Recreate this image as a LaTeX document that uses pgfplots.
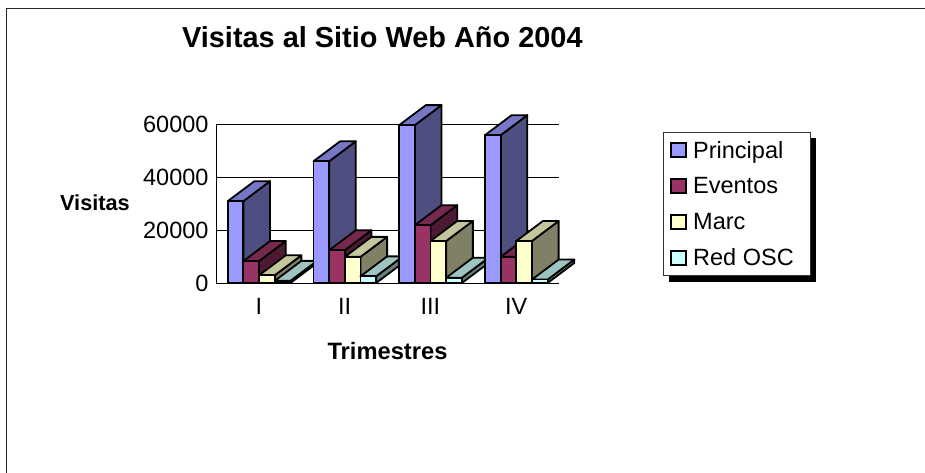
\documentclass[border=0pt]{standalone}
\usepackage{fontspec}
\setmainfont{Liberation Sans}
\usepackage{pgfplots}
\pgfplotsset{compat=1.18}

\definecolor{prinF}{HTML}{9999FF}\definecolor{prinT}{HTML}{7777C8}\definecolor{prinS}{HTML}{4E4E80}
\definecolor{evenF}{HTML}{993366}\definecolor{evenT}{HTML}{77284F}\definecolor{evenS}{HTML}{4D1A33}
\definecolor{marcF}{HTML}{FFFFCC}\definecolor{marcT}{HTML}{C6C69E}\definecolor{marcS}{HTML}{808066}
\definecolor{redoF}{HTML}{CCFFFF}\definecolor{redoT}{HTML}{9EC4C2}\definecolor{redoS}{HTML}{668080}

% bar at left edge #1 (in categories), value #2, colour prefix #3
\newcommand{\bardepth}[3]{%
  \pgfmathsetmacro{\xa}{#1}%
  \pgfmathsetmacro{\xb}{#1+0.1827}%
  \pgfmathsetmacro{\xc}{#1+0.1827+0.311}%
  \pgfmathsetmacro{\xd}{#1+0.311}%
  \edef\yt{\the\numexpr#2+7576\relax}%
  \addplot[forget plot,sharp plot,no marks,bar line,fill=#3S] coordinates {(\xb,0) (\xc,7576) (\xc,\yt) (\xb,#2)} -- cycle;
  \addplot[forget plot,sharp plot,no marks,bar line,fill=#3T] coordinates {(\xa,#2) (\xb,#2) (\xc,\yt) (\xd,\yt)} -- cycle;
  \addplot[forget plot,sharp plot,no marks,bar line,fill=#3F] coordinates {(\xa,0) (\xb,0) (\xb,#2) (\xa,#2)} -- cycle;
}
\tikzset{bar line/.style={draw=black,line width=1.8pt,line join=round}}

\begin{document}
\begin{tikzpicture}
\path[use as bounding box] (0,0) rectangle (925pt,473pt);
\draw[line width=1.9pt,black!85] (6.5pt,0) -- (6.5pt,464.5pt) -- (925pt,464.5pt);
\fill[black] (669pt,191pt) rectangle (816pt,335pt); % legend shadow
\begin{axis}[
    at={(216pt,190pt)}, anchor=south west,
    scale only axis, width=343pt, height=158.4pt,
    clip=false,
    xmin=0, xmax=4, ymin=0, ymax=60000,
    axis lines*=left,
    axis line style={-,line width=0.9pt},
    ytick={0,20000,40000,60000},
    xtick={0.5,1.5,2.5,3.5},
    xticklabels={I,II,III,IV},
    x tick style={draw=none},
    y tick style={black,line width=0.9pt},
    major tick length=4.5pt,
    scaled y ticks=false,
    /pgf/number format/1000 sep={},
    /pgf/number format/assume math mode=true,
    ymajorgrids,
    grid style={black,line width=0.9pt},
    tick label style={font=\fontsize{23.5}{28}\selectfont},
    xticklabel style={yshift=-12pt},
    yticklabel style={xshift=-4pt},
    title={Visitas al Sitio Web Año 2004},
    title style={font=\fontsize{28.9}{34}\selectfont\bfseries,at={(rel axis cs:0.485,1.515)},anchor=center},
    xlabel={Trimestres},
    xlabel style={font=\fontsize{23.7}{28}\selectfont\bfseries,at={(rel axis cs:0.5,-0.429)},anchor=center},
    ylabel={Visitas},
    ylabel style={font=\fontsize{21.7}{26}\selectfont\bfseries,at={(rel axis cs:-0.353,0.505)},anchor=center,rotate=-90},
    legend style={at={(rel axis cs:1.303,0.953)},anchor=north west,
        draw=black!80,line width=0.9pt,fill=white,
        font=\fontsize{23.5}{28}\selectfont,
        row sep=14pt,inner xsep=7pt,inner ysep=6.5pt,
        /tikz/column 1/.style={column sep=4pt},
        cells={anchor=west}},
    legend cell align={left},
]
\addlegendimage{legend image code/.code={\draw[line width=1.8pt,draw=black,fill=prinF] (0pt,-7pt) rectangle (15pt,7pt);}}
\addlegendentry{Principal}
\addlegendimage{legend image code/.code={\draw[line width=1.8pt,draw=black,fill=evenF] (0pt,-7pt) rectangle (15pt,7pt);}}
\addlegendentry{Eventos}
\addlegendimage{legend image code/.code={\draw[line width=1.8pt,draw=black,fill=marcF] (0pt,-7pt) rectangle (15pt,7pt);}}
\addlegendentry{Marc}
\addlegendimage{legend image code/.code={\draw[line width=1.8pt,draw=black,fill=redoF] (0pt,-7pt) rectangle (15pt,7pt);}}
\addlegendentry{Red OSC\hspace*{8pt}}

% trimestre I
\bardepth{0.1365}{31000}{prin}
\bardepth{0.3192}{8300}{even}
\bardepth{0.5019}{2900}{marc}
\bardepth{0.6846}{800}{redo}
% trimestre II
\bardepth{1.1365}{46100}{prin}
\bardepth{1.3192}{12400}{even}
\bardepth{1.5019}{9900}{marc}
\bardepth{1.6846}{2500}{redo}
% trimestre III
\bardepth{2.1365}{59800}{prin}
\bardepth{2.3192}{21900}{even}
\bardepth{2.5019}{15900}{marc}
\bardepth{2.6846}{2000}{redo}
% trimestre IV
\bardepth{3.1365}{56000}{prin}
\bardepth{3.3192}{9900}{even}
\bardepth{3.5019}{15900}{marc}
\bardepth{3.6846}{1300}{redo}
\end{axis}
\end{tikzpicture}
\end{document}
